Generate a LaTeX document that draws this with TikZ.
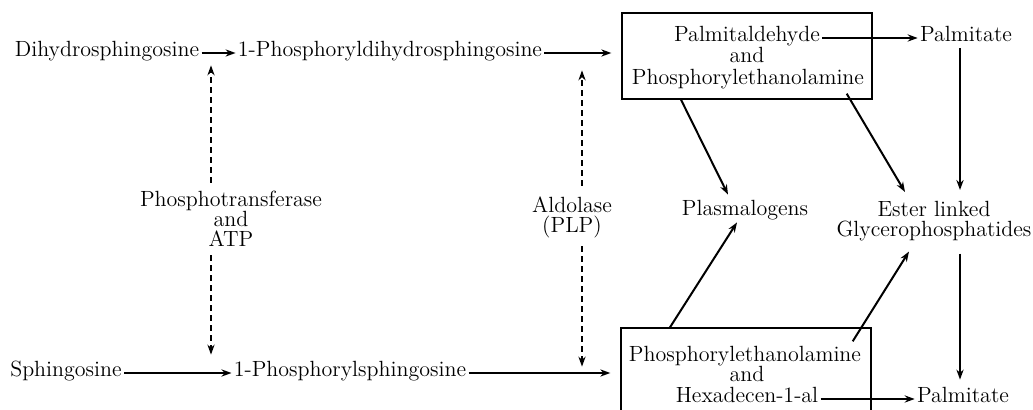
\documentclass[tikz,border=0pt]{standalone}
\usepackage{xcolor}
\usepackage{tikz}
\usetikzlibrary{arrows.meta,positioning,calc}

\begin{document}
\begin{tikzpicture}[
  x=0.5pt, y=-0.5pt, >={Stealth[length=5pt,width=3.6pt]},
  every node/.style={font=\fontsize{11}{10}\selectfont, inner sep=1pt},
  chem/.style={anchor=base, text height=6pt, text depth=2pt},
  enzlabel/.style={align=center, anchor=north, font=\fontsize{11}{10}\selectfont},
  poolbox/.style={draw, line width=0.7pt, minimum width=125pt},
  rxn/.style={->, line width=1pt},
  enzarrow/.style={->, line width=1pt, dash pattern=on 3pt off 2pt}
]
\clip (0,0) rectangle (1033,410);

% -- Sphingoid bases and their 1-phosphates (top row dihydro, bottom row unsaturated).
\node[chem] (dhs)   at (107,57)  {Dihydrosphingosine};
\node[chem] (pdhs)  at (390,57)  {1-Phosphoryldihydrosphingosine};
\node[chem] (sph)   at (66,377)  {Sphingosine};
\node[chem] (psph)  at (350,377) {1-Phosphorylsphingosine};

% -- Cleavage products, each pair in its own box.
\node[poolbox, minimum height=43pt] (box1) at (747,56)  {};
\node[chem] (pald)  at (747,42)  {Palmitaldehyde};
\node[chem] (and1)  at (747,63)  {and};
\node[chem] (pea1)  at (748,85)  {Phosphorylethanolamine};
\node[poolbox, minimum height=46pt] (box2) at (746,374) {};
\node[chem] (pea2)  at (745,362) {Phosphorylethanolamine};
\node[chem] (and2)  at (747,382) {and};
\node[chem] (hex)   at (747,403) {Hexadecen-1-al};

\node[chem] (pal1)  at (966,42)  {Palmitate};
\node[chem] (pal2)  at (963,403) {Palmitate};
\node[chem] (plas)  at (745,216) {Plasmalogens};
\node[enzlabel] (ester) at (934,199) {Ester linked\\Glycerophosphatides};

% -- Enzymes and cofactors.
\node[enzlabel] (enz1) at (231,189) {Phosphotransferase\\and\\ATP};
\node[enzlabel] (enz2) at (572,194) {Aldolase\\(PLP)};
\coordinate (k1) at (211,0);
\coordinate (k2) at (582,0);

% -- Main steps.
\draw[rxn] (dhs) -- (pdhs);
\draw[rxn] (sph) -- (psph);
\draw[rxn, shorten >=5pt] (pdhs.east) -- (pdhs.east -| box1.west);
\draw[rxn, shorten >=5pt] (psph.east) -- (psph.east -| box2.west);
\draw[rxn] (pald) -- (pald -| pal1.west);
\draw[rxn] (hex) -- (pal2);

% -- Dashed: enzyme acting on each step.
\draw[enzarrow, shorten <=3pt, shorten >=1pt] (k1 |- enz1.north) -- (k1 |- dhs.south);
\draw[enzarrow, shorten <=3pt, shorten >=4pt] (k1 |- enz1.south) -- (k1 |- sph.north);
\draw[enzarrow, shorten <=4pt, shorten >=3.5pt] (k2 |- enz2.north) -- (k2 |- pdhs.south);
\draw[enzarrow, shorten <=3pt, shorten >=-2pt] (k2 |- enz2.south) -- (k2 |- psph.north);

% -- Routes to plasmalogens and ester-linked lipids.
\draw[rxn] ($(box1.south)+(-66,0)$) -- ($(plas.north)+(-17,-7)$);
\draw[rxn] ($(box1.south east)+(-26,-6)$) -- ($(ester.north)+(-29,-7)$);
\draw[rxn] ($(box2.north)+(-76,0)$) -- ($(plas.south)+(-8,0)$);
\draw[rxn] ($(box2.north east)+(-19,14)$) -- ($(ester.south)+(-25,8)$);
\draw[rxn, shorten >=4.5pt] ([xshift=-3pt]pal1.south) -- ([xshift=-3pt]pal1.south |- ester.north);
\draw[rxn, shorten <=5pt, shorten >=4.5pt] ([xshift=-3pt]pal1.south |- ester.south) -- ([xshift=-3pt]pal1.south |- pal2.north);
\end{tikzpicture}
\end{document}
